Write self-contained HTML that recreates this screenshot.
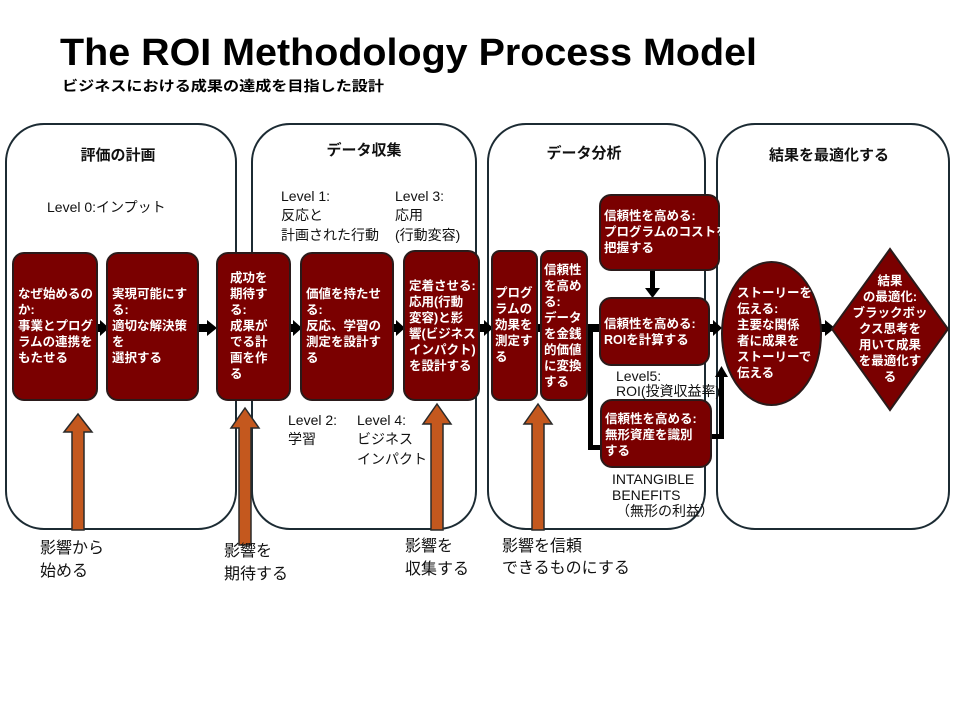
<!DOCTYPE html>
<html><head><meta charset="utf-8"><style>
body{margin:0;background:#fff;}
svg{display:block;font-family:"Liberation Sans","Noto Sans CJK JP",sans-serif;}
.w{fill:#fff;font-weight:bold;font-size:12.5px;}
.l{fill:#111;font-size:14px;}
.h{fill:#111;font-weight:bold;font-size:15px;}
.b{fill:#111;font-size:16px;}
.box{fill:#7a0000;stroke:#2a1a1a;stroke-width:2;}
.pan{fill:#fff;stroke:#1c2b33;stroke-width:2;}
.ar{fill:#c4581e;stroke:#2a2a2a;stroke-width:1.5;}
</style></head><body>
<svg width="955" height="715" viewBox="0 0 955 715" xmlns="http://www.w3.org/2000/svg">
<text x="60" y="65" font-size="38" font-weight="bold" fill="#000" textLength="697" lengthAdjust="spacingAndGlyphs">The ROI Methodology Process Model</text>
<text x="62" y="91" font-size="14" font-weight="bold" fill="#000" textLength="322" lengthAdjust="spacingAndGlyphs">ビジネスにおける成果の達成を目指した設計</text>

<rect class="pan" x="6" y="124" width="230" height="405" rx="38"/>
<rect class="pan" x="252" y="124" width="224" height="405" rx="38"/>
<rect class="pan" x="488" y="124" width="217" height="405" rx="38"/>
<rect class="pan" x="717" y="124" width="232" height="405" rx="38"/>

<text class="h" x="118" y="160" text-anchor="middle">評価の計画</text>
<text class="h" x="364" y="155" text-anchor="middle">データ収集</text>
<text class="h" x="584" y="158" text-anchor="middle">データ分析</text>
<text class="h" x="829" y="160" text-anchor="middle">結果を最適化する</text>

<text class="l" x="47" y="212">Level 0:インプット</text>
<text class="l" x="281" y="201">Level  1:</text><text class="l" x="281" y="220">反応と</text><text class="l" x="281" y="240">計画された行動</text>
<text class="l" x="395" y="201">Level  3:</text><text class="l" x="395" y="220">応用</text><text class="l" x="395" y="240">(行動変容)</text>
<text class="l" x="288" y="425">Level 2:</text><text class="l" x="288" y="444">学習</text>
<text class="l" x="357" y="425">Level 4:</text><text class="l" x="357" y="444">ビジネス</text><text class="l" x="357" y="464">インパクト</text>
<text class="l" x="616" y="381" font-size="13">Level5:</text><text class="l" x="616" y="396" font-size="13">ROI(投資収益率)</text>
<text class="l" x="612" y="484" font-size="13">INTANGIBLE</text><text class="l" x="612" y="500" font-size="13">BENEFITS</text><text class="l" x="616" y="516" font-size="12">（無形の利益）</text>

<!-- connectors -->
<g fill="#000" stroke="none">
<rect x="95" y="324" width="6" height="8"/><polygon points="100,320 109,328 100,336"/>
<rect x="196" y="324" width="12" height="8"/><polygon points="207,320 217,328 207,336"/>
<rect x="288" y="324" width="6" height="8"/><polygon points="293,320 302,328 293,336"/>
<rect x="391" y="324" width="6" height="8"/><polygon points="396,320 405,328 396,336"/>
<rect x="477" y="324" width="8" height="8"/><polygon points="484,320 493,328 484,336"/>
<rect x="535" y="324" width="8" height="8"/>
<rect x="585" y="324" width="16" height="8"/>
<rect x="588" y="328" width="5" height="122"/><rect x="588" y="445" width="14" height="5"/>
<rect x="650" y="270" width="5" height="20"/><polygon points="645,288 660,288 652.5,298"/>
<rect x="707" y="324" width="8" height="8"/><polygon points="713,320 722,328 713,336"/>
<rect x="709" y="434" width="15" height="5"/><rect x="719" y="375" width="5" height="64"/><polygon points="715,377 728,377 721.5,366"/>
<rect x="819" y="324" width="8" height="8"/><polygon points="825,320 835,328 825,336"/>
</g>

<rect class="box" x="13" y="253" width="84" height="147" rx="11"/>
<rect class="box" x="107" y="253" width="91" height="147" rx="11"/>
<rect class="box" x="217" y="253" width="73" height="147" rx="11"/>
<rect class="box" x="301" y="253" width="92" height="147" rx="11"/>
<rect class="box" x="404" y="251" width="75" height="149" rx="11"/>
<rect class="box" x="492" y="251" width="45" height="149" rx="8"/>
<rect class="box" x="541" y="251" width="46" height="149" rx="8"/>
<rect class="box" x="600" y="195" width="119" height="75" rx="11"/>
<rect class="box" x="600" y="298" width="109" height="67" rx="11"/>
<rect class="box" x="601" y="400" width="110" height="67" rx="11"/>
<ellipse class="box" cx="771.5" cy="333.5" rx="49.5" ry="71.5"/>
<polygon class="box" points="890,249 948,329 890,410 832,329"/>

<g class="w">
<text x="18" y="298">なぜ始めるの</text><text x="18" y="314">か:</text><text x="18" y="330">事業とプログ</text><text x="18" y="346">ラムの連携を</text><text x="18" y="362">もたせる</text>
<text x="112" y="298">実現可能にす</text><text x="112" y="314">る:</text><text x="112" y="330">適切な解決策</text><text x="112" y="346">を</text><text x="112" y="362">選択する</text>
<text x="230" y="282">成功を</text><text x="230" y="298">期待す</text><text x="230" y="314">る:</text><text x="230" y="330">成果が</text><text x="230" y="346">でる計</text><text x="230" y="362">画を作</text><text x="230" y="378">る</text>
<text x="306" y="298">価値を持たせ</text><text x="306" y="314">る:</text><text x="306" y="330">反応、学習の</text><text x="306" y="346">測定を設計す</text><text x="306" y="362">る</text>
<text x="409" y="290">定着させる:</text><text x="409" y="306">応用(行動</text><text x="409" y="322">変容)と影</text><text x="409" y="338">響(ビジネス</text><text x="409" y="354">インパクト)</text><text x="409" y="370">を設計する</text>
<text x="495" y="297">プログ</text><text x="495" y="313">ラムの</text><text x="495" y="329">効果を</text><text x="495" y="345">測定す</text><text x="495" y="361">る</text>
<text x="544" y="274">信頼性</text><text x="544" y="290">を高め</text><text x="544" y="306">る:</text><text x="544" y="322">データ</text><text x="544" y="338">を金銭</text><text x="544" y="354">的価値</text><text x="544" y="370">に変換</text><text x="544" y="386">する</text>
<text x="604" y="220">信頼性を高める:</text><text x="604" y="236">プログラムのコストを</text><text x="604" y="252">把握する</text>
<text x="604" y="328">信頼性を高める:</text><text x="604" y="344">ROIを計算する</text>
<text x="605" y="423">信頼性を高める:</text><text x="605" y="439">無形資産を識別</text><text x="605" y="455">する</text>
<text x="737" y="297">ストーリーを</text><text x="737" y="313">伝える:</text><text x="737" y="329">主要な関係</text><text x="737" y="345">者に成果を</text><text x="737" y="361">ストーリーで</text><text x="737" y="377">伝える</text>
<g text-anchor="middle"><text x="890" y="285">結果</text><text x="890" y="301">の最適化:</text><text x="890" y="317">ブラックボッ</text><text x="890" y="333">クス思考を</text><text x="890" y="349">用いて成果</text><text x="890" y="365">を最適化す</text><text x="890" y="381">る</text></g>
</g>

<polygon class="ar" points="72,530 72,432 64,432 78,414 92,432 84,432 84,530"/>
<polygon class="ar" points="239,545 239,428 231,428 245,408 259,428 251,428 251,545"/>
<polygon class="ar" points="431,530 431,424 423,424 437,404 451,424 443,424 443,530"/>
<polygon class="ar" points="532,530 532,424 524,424 538,404 552,424 544,424 544,530"/>

<text class="b" x="40" y="553">影響から</text><text class="b" x="40" y="576">始める</text>
<text class="b" x="224" y="556">影響を</text><text class="b" x="224" y="579">期待する</text>
<text class="b" x="405" y="551">影響を</text><text class="b" x="405" y="574">収集する</text>
<text class="b" x="502" y="551">影響を信頼</text><text class="b" x="502" y="573">できるものにする</text>
</svg>
</body></html>
